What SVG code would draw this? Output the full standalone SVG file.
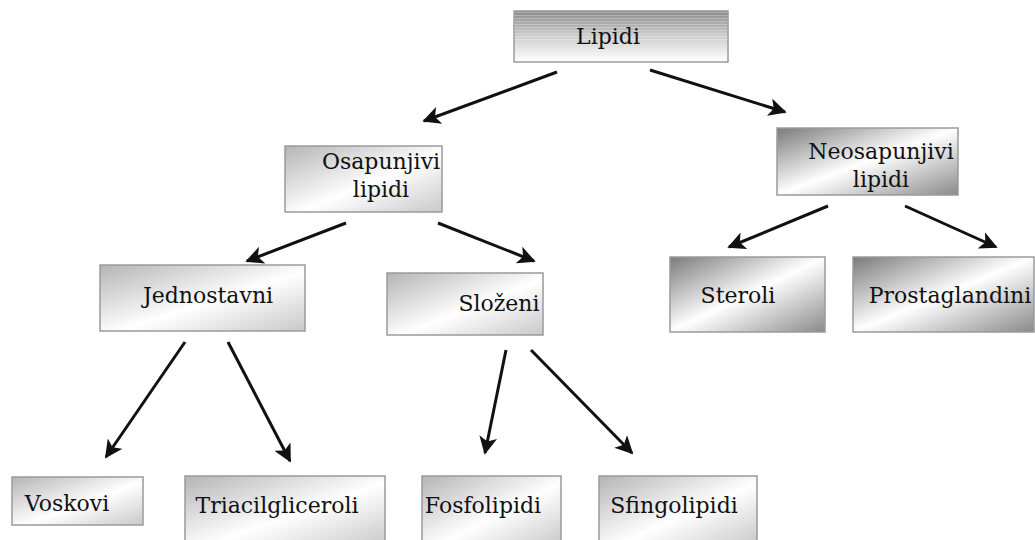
<svg xmlns="http://www.w3.org/2000/svg" width="1035" height="540" viewBox="0 0 1035 540">
<defs>
<linearGradient id="gTop" x1="0" y1="0" x2="0" y2="1">
<stop offset="0" stop-color="#8a8a8a"/>
<stop offset="0.5" stop-color="#cfcfcf"/>
<stop offset="1" stop-color="#ffffff"/>
</linearGradient>
<pattern id="stripes" width="4" height="3" patternUnits="userSpaceOnUse">
<rect width="4" height="1" fill="#ffffff" opacity="0.25"/>
</pattern>
<linearGradient id="gDark" x1="0" y1="0" x2="1" y2="1">
<stop offset="0" stop-color="#7a7a7a"/>
<stop offset="0.5" stop-color="#ffffff"/>
<stop offset="1" stop-color="#8a8a8a"/>
</linearGradient>
<linearGradient id="gLight" x1="0" y1="0" x2="1" y2="1">
<stop offset="0" stop-color="#b4b4b4"/>
<stop offset="0.55" stop-color="#ffffff"/>
<stop offset="1" stop-color="#c8c8c8"/>
</linearGradient>
<marker id="arr" viewBox="0 0 10 10" refX="9" refY="5" markerWidth="6" markerHeight="6" markerUnits="strokeWidth" orient="auto">
<path d="M0,0 L10,5 L0,10 L2.5,5 z" fill="#111"/>
</marker>
</defs>
<style>
.box{stroke:#9a9a9a;stroke-width:1.5}
text{font-family:"DejaVu Serif",serif;font-size:22px;fill:#111;text-anchor:middle}
.c{stroke:#111;stroke-width:3;fill:none;marker-end:url(#arr)}
</style>
<rect width="1035" height="540" fill="#ffffff"/>
<g id="connectors">
<line class="c" x1="557" y1="72" x2="424" y2="121"/>
<line class="c" x1="650" y1="70" x2="785" y2="112"/>
<line class="c" x1="346" y1="223" x2="247" y2="261"/>
<line class="c" x1="438" y1="223" x2="534" y2="261"/>
<line class="c" x1="828" y1="206" x2="729" y2="247"/>
<line class="c" x1="905" y1="206" x2="996" y2="247"/>
<line class="c" x1="185" y1="342" x2="106" y2="457"/>
<line class="c" x1="228" y1="342" x2="290" y2="461"/>
<line class="c" x1="506" y1="350" x2="485" y2="453"/>
<line class="c" x1="531" y1="350" x2="632" y2="453"/>
</g>
<g id="lipidi">
<rect class="box" x="514" y="11" width="214" height="51" fill="url(#gTop)"/>
<rect x="514" y="11" width="214" height="30" fill="url(#stripes)"/>
<text x="608" y="44">Lipidi</text>
</g>
<g id="osapunjivi">
<rect class="box" x="285" y="146" width="157" height="66" fill="url(#gLight)"/>
<text x="381" y="169">Osapunjivi</text>
<text x="381" y="197">lipidi</text>
</g>
<g id="neosapunjivi">
<rect class="box" x="777" y="128" width="181" height="67" fill="url(#gDark)"/>
<text x="881" y="159">Neosapunjivi</text>
<text x="881" y="187">lipidi</text>
</g>
<g id="jednostavni">
<rect class="box" x="100" y="265" width="205" height="66" fill="url(#gLight)"/>
<text x="208" y="303">Jednostavni</text>
</g>
<g id="slozeni">
<rect class="box" x="387" y="273" width="156" height="62" fill="url(#gLight)"/>
<text x="499" y="311">Složeni</text>
</g>
<g id="steroli">
<rect class="box" x="670" y="257" width="155" height="75" fill="url(#gDark)"/>
<text x="738" y="303">Steroli</text>
</g>
<g id="prostaglandini">
<rect class="box" x="853" y="257" width="181" height="75" fill="url(#gDark)"/>
<text x="950" y="303">Prostaglandini</text>
</g>
<g id="voskovi">
<rect class="box" x="12" y="477" width="131" height="48" fill="url(#gLight)"/>
<text x="67" y="511">Voskovi</text>
</g>
<g id="triacilgliceroli">
<rect class="box" x="185" y="476" width="200" height="70" fill="url(#gLight)"/>
<text x="277" y="513">Triacilgliceroli</text>
</g>
<g id="fosfolipidi">
<rect class="box" x="422" y="476" width="139" height="70" fill="url(#gLight)"/>
<text x="483" y="513">Fosfolipidi</text>
</g>
<g id="sfingolipidi">
<rect class="box" x="599" y="476" width="158" height="70" fill="url(#gLight)"/>
<text x="674" y="513">Sfingolipidi</text>
</g>
</svg>
